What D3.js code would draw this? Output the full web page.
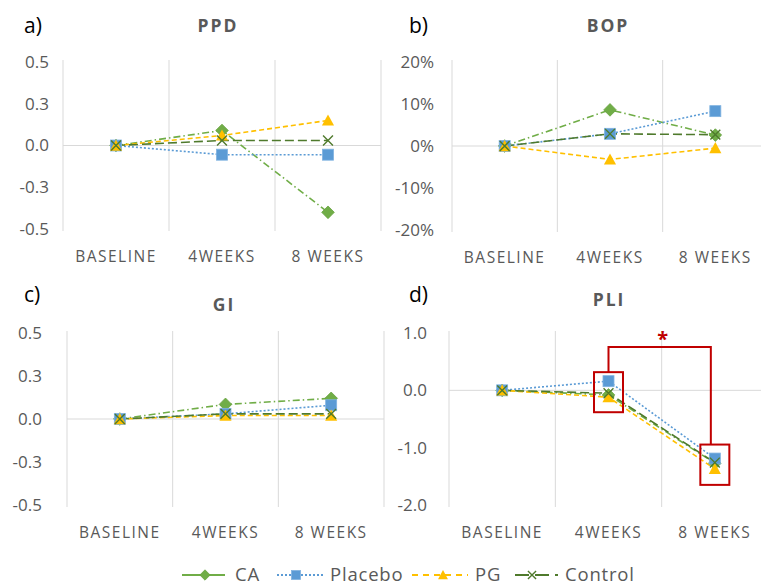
<!DOCTYPE html>
<html><head><meta charset="utf-8">
<script src="https://cdn.jsdelivr.net/npm/d3@7"></script>
<style>
html,body{margin:0;padding:0;background:#fff;}
svg{display:block;}
text{font-family:"Open Sans","Noto Sans",sans-serif;}
</style></head>
<body>
<svg id="chart" width="761" height="588"></svg>
<script>
const categories = ["BASELINE", "4WEEKS", "8 WEEKS"];
const seriesNames = ["CA", "Placebo", "PG", "Control"];

// panel a) PPD
const ppdCA = [0, 0.09, -0.40];
const ppdPlacebo = [0, -0.055, -0.055];
const ppdPG = [0, 0.06, 0.15];
const ppdControl = [0, 0.03, 0.03];
const ppdTicks = [-0.5, -0.25, 0, 0.25, 0.5];

// panel b) BOP
const bopCA = [0, 0.086, 0.026];
const bopPlacebo = [0, 0.029, 0.083];
const bopPG = [0, -0.032, -0.005];
const bopControl = [0, 0.029, 0.027];
const bopTicks = [-0.2, -0.1, 0, 0.1, 0.2];

// panel c) GI
const giCA = [0, 0.085, 0.12];
const giPlacebo = [0, 0.03, 0.08];
const giPG = [0, 0.02, 0.02];
const giControl = [0, 0.03, 0.03];
const giTicks = [-0.5, -0.25, 0, 0.25, 0.5];

// panel d) PLI
const pliCA = [0, -0.08, -1.27];
const pliPlacebo = [0, 0.16, -1.19];
const pliPG = [0, -0.12, -1.37];
const pliControl = [0, -0.05, -1.26];
const pliTicks = [-2, -1, 0, 1];

const colors = {CA:"#70AD47", Placebo:"#5B9BD5", PG:"#FFC000", Control:"#4F7A2C"};
const dashes = {CA:"7,3,1.5,3", Placebo:"2,2", PG:"5,3", Control:"9,4"};

const panels = [
  {lab:"a)", title:"PPD", data:[ppdCA,ppdPlacebo,ppdPG,ppdControl], ticks:ppdTicks, domain:[-0.5,0.5],
   fmt:d3.format(".1f"), x0:63, x1:381, yT:62, yB:229, tickX:49, labX:24, labY:33, titleX:218, titleY:32},
  {lab:"b)", title:"BOP", data:[bopCA,bopPlacebo,bopPG,bopControl], ticks:bopTicks, domain:[-0.2,0.2],
   fmt:d3.format(".0%"), x0:452, x1:768, yT:62, yB:230, tickX:434, labX:409, labY:33, titleX:608, titleY:32},
  {lab:"c)", title:"GI", data:[giCA,giPlacebo,giPG,giControl], ticks:giTicks, domain:[-0.5,0.5],
   fmt:d3.format(".1f"), x0:67, x1:384, yT:333, yB:505, tickX:42, labX:24, labY:302, titleX:224, titleY:311},
  {lab:"d)", title:"PLI", data:[pliCA,pliPlacebo,pliPG,pliControl], ticks:pliTicks, domain:[-2,1],
   fmt:d3.format(".1f"), x0:449, x1:768, yT:333, yB:505, tickX:427, labX:409, labY:302, titleX:609, titleY:306, annot:true}
];

const svg = d3.select("#chart");

function marker(g, name, x, y, s){
  const c = colors[name];
  const h = s/2;
  if(name==="CA"){
    const r = h*1.15;
    g.append("path").attr("d",`M${x},${y-r}L${x+r},${y}L${x},${y+r}L${x-r},${y}Z`)
      .attr("fill",c).attr("stroke","#6aa342").attr("stroke-width",0.8);
  } else if(name==="Placebo"){
    g.append("rect").attr("x",x-h).attr("y",y-h).attr("width",s).attr("height",s)
      .attr("fill",c).attr("stroke","#7fb2e0").attr("stroke-width",0.8);
  } else if(name==="PG"){
    const r = h*1.1;
    g.append("path").attr("d",`M${x},${y-r}L${x+r},${y+r*0.85}L${x-r},${y+r*0.85}Z`)
      .attr("fill",c);
  } else {
    const k = s*0.45;
    g.append("path").attr("d",`M${x-k},${y-k}L${x+k},${y+k}M${x-k},${y+k}L${x+k},${y-k}`)
      .attr("stroke",c).attr("stroke-width",1.4).attr("fill","none");
  }
}

panels.forEach(p=>{
  const g = svg.append("g");
  const x = d3.scaleBand().domain(categories).range([p.x0,p.x1]);
  const y = d3.scaleLinear().domain(p.domain).range([p.yB,p.yT]);
  const xc = c => x(c)+x.bandwidth()/2;

  const bounds = categories.map(c=>x(c)).concat([p.x1]);
  g.selectAll(".vg").data(bounds).enter().append("line")
    .attr("x1",d=>d).attr("x2",d=>d).attr("y1",p.yT-2).attr("y2",p.yB+2)
    .attr("stroke","#d9d9d9").attr("stroke-width",1);
  g.append("line").attr("x1",p.x0).attr("x2",p.x1).attr("y1",y(0)).attr("y2",y(0))
    .attr("stroke","#d9d9d9").attr("stroke-width",1);

  g.selectAll(".yt").data(p.ticks).enter().append("text")
    .attr("x",p.tickX).attr("y",d=>y(d)).attr("dy","0.35em").attr("text-anchor","end")
    .attr("font-size",17).attr("fill","#595959").text(d=>p.fmt(d).replace("−","-"));

  g.selectAll(".xt").data(categories).enter().append("text")
    .attr("x",d=>xc(d)).attr("y",p.yB+28).attr("dy","0.35em").attr("text-anchor","middle")
    .attr("font-size",15.5).attr("letter-spacing","1.5px").attr("fill","#595959").text(d=>d);

  g.append("text").attr("x",p.titleX).attr("y",p.titleY).attr("text-anchor","middle")
    .attr("font-size",17.5).attr("font-weight","bold").attr("letter-spacing","2px").attr("fill","#595959").text(p.title);
  g.append("text").attr("x",p.labX).attr("y",p.labY)
    .attr("font-size",21).attr("fill","#000").text(p.lab);

  seriesNames.forEach((name,i)=>{
    const vals = p.data[i];
    const line = d3.line().x((d,j)=>xc(categories[j])).y(d=>y(d));
    g.append("path").attr("d",line(vals)).attr("fill","none")
      .attr("stroke",colors[name]).attr("stroke-width",1.6).attr("stroke-dasharray",dashes[name]);
  });
  seriesNames.forEach((name,i)=>{
    p.data[i].forEach((v,j)=>marker(g,name,xc(categories[j]),y(v),11));
  });

  if(p.annot){
    const red = "#C00000";
    const at = j => p.data.map(s=>s[j]);
    const b1 = {cx:xc(categories[1]), top:y(d3.max(at(1)))-9, bot:y(d3.min(at(1)))+15};
    const b2 = {cx:xc(categories[2]), top:y(d3.max(at(2)))-14, bot:y(d3.min(at(2)))+16};
    const w = 29;
    [b1,b2].forEach(b=>{
      g.append("rect").attr("x",b.cx-w/2).attr("y",b.top).attr("width",w).attr("height",b.bot-b.top)
        .attr("fill","none").attr("stroke",red).attr("stroke-width",2);
    });
    const by = y(p.domain[1]) + 14;
    g.append("path").attr("d",`M${b1.cx},${b1.top}V${by}H${b2.cx-4}V${b2.top}`)
      .attr("fill","none").attr("stroke",red).attr("stroke-width",2);
    g.append("text").attr("x",(b1.cx+b2.cx)/2+1).attr("y",by-1).attr("text-anchor","middle")
      .attr("font-size",20).attr("font-weight","bold").attr("fill",red).text("*");
  }
});

// legend
const legend = svg.append("g");
const legItems = [
  {lx0:182, lx1:225, mx:205, tx:235},
  {lx0:277, lx1:325, mx:296, tx:330},
  {lx0:412, lx1:468, mx:443, tx:475},
  {lx0:515, lx1:558, mx:532, tx:565}
];
const legDash = {CA:null, Placebo:"2,2", PG:"6,5", Control:"14,6"};
seriesNames.forEach((name,i)=>{
  const it = legItems[i];
  const ly = 575;
  legend.append("line").attr("x1",it.lx0).attr("x2",it.lx1).attr("y1",ly).attr("y2",ly)
    .attr("stroke",colors[name]).attr("stroke-width",1.8)
    .attr("stroke-dasharray",legDash[name]);
  marker(legend,name,it.mx,ly,9);
  legend.append("text").attr("x",it.tx).attr("y",ly).attr("dy","0.35em")
    .attr("font-size",18.5).attr("letter-spacing","0.8px").attr("fill","#595959").text(name);
});
</script>
</body></html>
